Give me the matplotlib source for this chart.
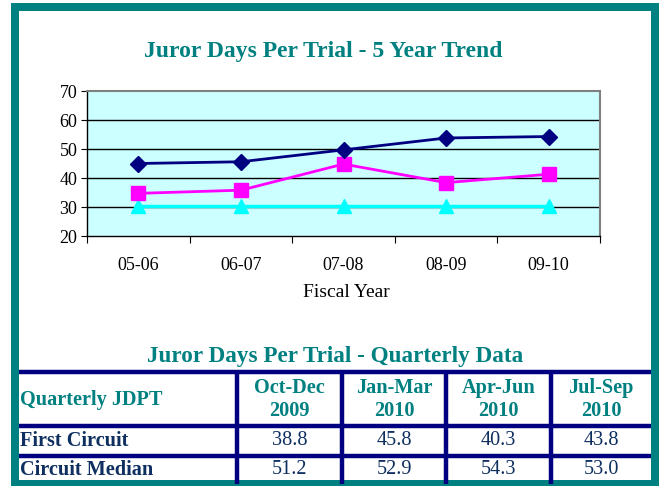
import matplotlib.pyplot as plt
from matplotlib.patches import Rectangle

years = ["05-06", "06-07", "07-08", "08-09", "09-10"]
first_circuit = [45.0, 45.6, 49.7, 53.8, 54.3]
circuit_median = [34.7, 35.8, 44.8, 38.4, 41.3]
standard = [30.5, 30.5, 30.5, 30.5, 30.5]

quarters = ["Oct-Dec\n2009", "Jan-Mar\n2010", "Apr-Jun\n2010", "Jul-Sep\n2010"]
row_names = ["First Circuit", "Circuit Median"]
row_values = [["38.8", "45.8", "40.3", "43.8"],
              ["51.2", "52.9", "54.3", "53.0"]]

teal = "#008080"
navy = "#000080"
ink = "#0f2f60"
W, H = 659, 486

plt.rcParams["font.family"] = ["Liberation Serif", "DejaVu Serif"]
fig = plt.figure(figsize=(W / 100, H / 100), dpi=100)

# overlay in pixel coordinates for frame, titles and table
bg = fig.add_axes([0, 0, 1, 1])
bg.set_xlim(0, W)
bg.set_ylim(H, 0)
bg.axis("off")

bg.text(323, 51, "Juror Days Per Trial - 5 Year Trend", ha="center", va="center",
        fontsize=17, fontweight="bold", color=teal)
bg.text(346, 292, "Fiscal Year", ha="center", va="center", fontsize=14, color="black")
bg.text(335, 356, "Juror Days Per Trial - Quarterly Data", ha="center", va="center",
        fontsize=16.7, fontweight="bold", color=teal)

# chart
ax = fig.add_axes([87 / W, 1 - 236 / H, (600 - 87) / W, (236 - 91) / H])
ax.set_facecolor("#CCFFFF")
x = range(len(years))
ax.plot(x, standard, color="#00FFFF", marker="^", markersize=10, linewidth=2.5)
ax.plot(x, circuit_median, color="#FF00FF", marker="s", markersize=10, linewidth=2)
ax.plot(x, first_circuit, color=navy, marker="D", markersize=8, linewidth=2)
ax.set_xlim(-0.5, len(years) - 0.5)
ax.set_ylim(20, 70)
ax.set_yticks(range(20, 71, 10))
for yv in range(30, 70, 10):
    ax.axhline(yv, color="black", linewidth=1, zorder=0.5)
ax.set_xticks([i - 0.5 for i in range(len(years) + 1)])
ax.set_xticklabels([])
ax.set_xticks(list(x), minor=True)
ax.set_xticklabels(years, minor=True)
ax.tick_params(axis="x", which="minor", length=0, pad=15, labelsize=13)
ax.tick_params(axis="x", which="major", length=5, direction="out")
ax.tick_params(axis="y", length=4, direction="out", labelsize=13, pad=3)
for s in ["top", "right"]:
    ax.spines[s].set_color("#808080")
    ax.spines[s].set_linewidth(1.5)
for s in ["left", "bottom"]:
    ax.spines[s].set_linewidth(1)

# table
cols = [19, 237, 342, 446, 551, 651]
rows = [371.5, 425.5, 455.5, 484]
for yv in rows[:-1]:
    bg.plot([cols[0], cols[-1]], [yv, yv], color=navy, linewidth=3.2, solid_capstyle="butt")
for xv in cols[1:-1]:
    bg.plot([xv, xv], [rows[0], rows[-1]], color=navy, linewidth=3.2, solid_capstyle="butt")

bg.text(20, (rows[0] + rows[1]) / 2 + 1, "Quarterly JDPT", ha="left", va="center",
        fontsize=14.6, fontweight="bold", color=teal)
for j, q in enumerate(quarters):
    cx = (cols[j + 1] + cols[j + 2]) / 2
    bg.text(cx, (rows[0] + rows[1]) / 2 + 1, q, ha="center", va="center", fontsize=14.6,
            fontweight="bold", color=teal, linespacing=1.2)
for i, name in enumerate(row_names):
    cy = (rows[i + 1] + rows[i + 2]) / 2
    bg.text(20, cy, name, ha="left", va="center", fontsize=14.6, fontweight="bold", color=ink)
    for j, v in enumerate(row_values[i]):
        cx = (cols[j + 1] + cols[j + 2]) / 2
        bg.text(cx, cy, v, ha="center", va="center", fontsize=14.6, color=ink)

# teal frame around the whole chart
bg.add_patch(Rectangle((15, 7), 640, 476.5, fill=False, edgecolor=teal, linewidth=5.76,
                       joinstyle="miter", clip_on=False))

fig.savefig("out.png", dpi=100)
